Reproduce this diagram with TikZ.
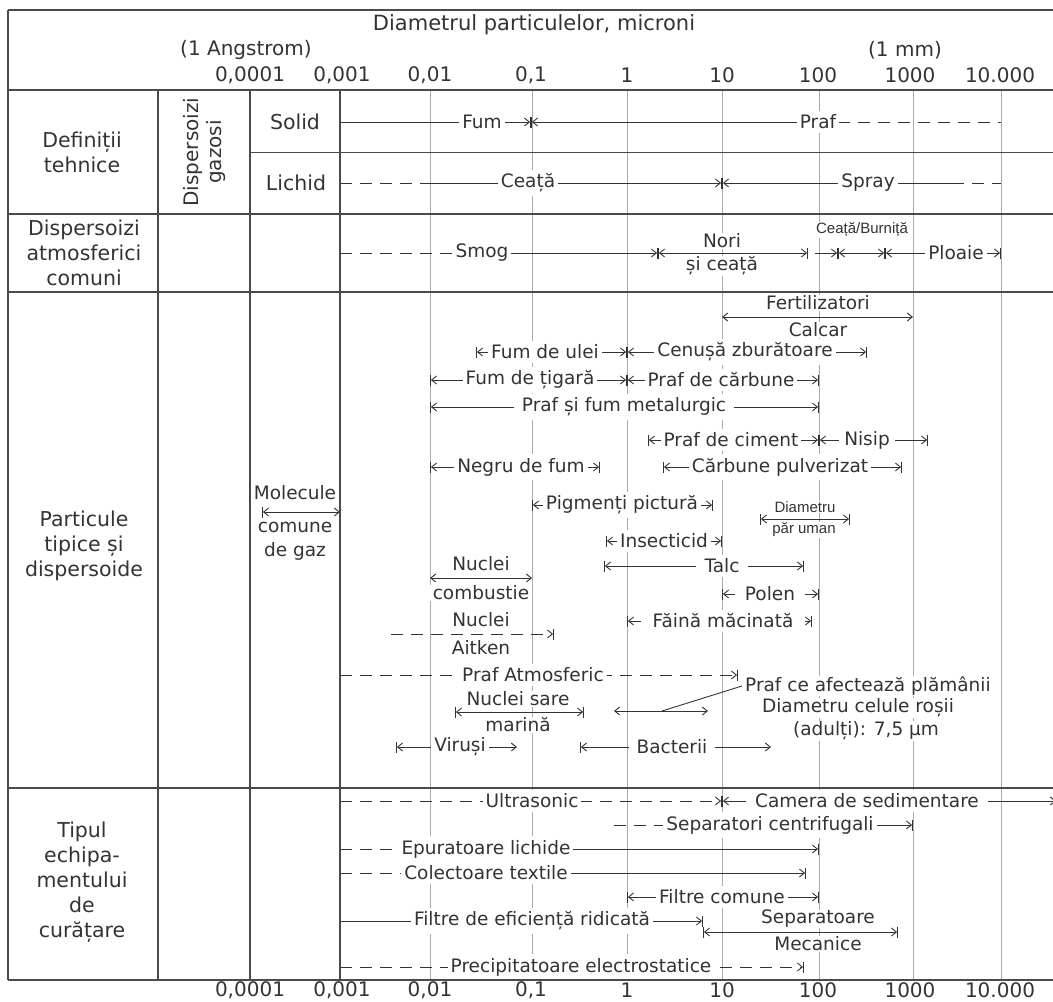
\documentclass[tikz,border=0pt]{standalone}
\usepackage{fontspec}
\setmainfont{DejaVu Sans}
\newfontfamily\arialfont{Liberation Sans}
\usetikzlibrary{arrows.meta}

\definecolor{linegray}{HTML}{4A4A4A}
\definecolor{gridgray}{HTML}{ABABAB}
\definecolor{inkgray}{HTML}{333333}

\tikzset{
  >={Straight Barb[length=5pt,width=8pt]},
  |/.tip={Bar[width=11pt]},
  tableline/.style={linegray, line width=1.5pt},
  thinline/.style={linegray, line width=1pt},
  gridline/.style={gridgray, line width=1pt},
  rangeline/.style={inkgray, line width=0.9pt},
  dashrange/.style={rangeline, dash pattern=on 12pt off 8pt},
  lab/.style={fill=white, text=inkgray, inner xsep=3pt, inner ysep=4pt,
    font=\fontsize{18.5}{22}\selectfont},
  sublab/.style={lab, inner ysep=0.5pt},
  tinylab/.style={fill=white, text=inkgray, inner sep=0.5pt,
    font=\arialfont\fontsize{15}{17}\selectfont},
  rowhead/.style={text=inkgray, align=center, font=\fontsize{20.5}{25}\selectfont},
  ticklab/.style={text=inkgray, inner sep=1pt, font=\fontsize{20}{24}\selectfont},
}

\begin{document}
\begin{tikzpicture}[x=1pt,y=-1pt]
  \useasboundingbox (0,0) rectangle (1053,1002);

  % decade grid
  \foreach \x in {430,532,627,722,819,913,1001}
    \draw[gridline] (\x,90) -- (\x,980);

  % header
  \node[ticklab, font=\fontsize{21}{25}\selectfont] (title) at (534,25) {Diametrul particulelor, microni};
  \node[ticklab] (angstrom) at (246,50) {(1 Angstrom)};
  \node[ticklab] (mm) at (905,50) {(1 mm)};
  \foreach \x/\t in {250/{0,0001},342/{0,001},430/{0,01},531/{0,1},627/1,722/10,818/100,910/1000,1000/{10.000}} {
    \node[ticklab] (t\x) at (\x,75) {\t};
    \node[ticklab] (b\x) at (\x,990) {\t};
  }

  % row heads
  \node[rowhead] (deftech) at (82,152) {Definiții\\tehnice};
  \node[rowhead, rotate=90, font=\fontsize{20}{23}\selectfont] (gazosi) at (204,152) {Dispersoizi\\gazosi};
  \node[rowhead] (solid) at (295,122) {Solid};
  \node[rowhead] (lichid) at (296,183) {Lichid};
  \node[rowhead] (atmos) at (84,253) {Dispersoizi\\atmosferici\\comuni};
  \node[rowhead] (partic) at (84,546) {Particule\\tipice și\\dispersoide};
  \node[rowhead] (tipul) at (82,882) {Tipul\\echipa-\\mentului\\de\\curățare};

  % definitii tehnice
  \draw[rangeline,->|] (340,122) -- (531,122);
  \draw[rangeline,|<-] (531,122) -- (818,122);
  \draw[dashrange] (818,122) -- (1001,122);
  \node[lab] (fum) at (482,122) {Fum};
  \node[lab] (praf) at (818,122) {Praf};
  \draw[dashrange] (340,183) -- (430,183);
  \draw[rangeline,->|] (430,183) -- (722,183);
  \draw[rangeline,|<-] (722,183) -- (952,183);
  \draw[dashrange] (952,183) -- (1001,183);
  \node[lab] (ceata) at (528,183) {Ceață};
  \node[lab] (spray) at (868,183) {Spray};

  % dispersoizi atmosferici
  \draw[dashrange] (340,253) -- (482,253);
  \draw[rangeline,->|] (482,253) -- (658,253);
  \draw[rangeline,|<->|] (658,253) -- (808,253);
  \draw[rangeline,->|] (815,253) -- (838,253);
  \draw[rangeline,|<->|] (838,253) -- (885,253);
  \draw[rangeline,|<->|] (885,253) -- (1001,253);
  \node[lab] (smog) at (482,253) {Smog};
  \node[sublab] (nori) at (722,241) {Nori};
  \node[sublab] (sinori) at (722,266) {și ceață};
  \node[tinylab] (burnita) at (862,230) {Ceață/Burniță};
  \node[lab] (ploaie) at (956,253) {Ploaie};

  % particule tipice
  \draw[rangeline,<->] (722,317) -- (913,317);
  \draw[rangeline,|<->|] (476,352) -- (627,352);
  \draw[rangeline,|<->|] (627,352) -- (867,352);
  \draw[rangeline,|<->|] (430,380) -- (627,380);
  \draw[rangeline,|<->|] (627,380) -- (819,380);
  \draw[rangeline,|<->|] (430,407) -- (819,407);
  \draw[rangeline,|<->|] (648,440) -- (819,440);
  \draw[rangeline,|<->|] (819,440) -- (928,440);
  \draw[rangeline,|<->|] (430,467) -- (600,467);
  \draw[rangeline,|<->|] (663,467) -- (902,467);
  \draw[rangeline,|<->] (262,512) -- (340,512);
  \draw[rangeline,|<->|] (532,505) -- (713,505);
  \draw[rangeline,|<->|] (760,519) -- (850,519);
  \draw[rangeline,|<->|] (606,541) -- (722,541);
  \draw[rangeline,|<->|] (604,566) -- (804,566);
  \draw[rangeline,<->] (430,578) -- (532,578);
  \draw[rangeline,|<->|] (722,594) -- (819,594);
  \draw[rangeline,|<->|] (627,621) -- (812,621);
  \draw[dashrange,->|] (391,634) -- (554,634);
  \draw[dashrange,->|] (340,675) -- (738,675);
  \draw[rangeline,|<->|] (455,712) -- (584,712);
  \draw[rangeline,<->] (614,711) -- (708,711);
  \draw[rangeline,|<->] (396,747) -- (517,747);
  \draw[rangeline,|<->] (580,747) -- (771,747);

  \node[sublab] (fert) at (818,303) {Fertilizatori};
  \node[sublab] (calcar) at (818,330) {Calcar};
  \node[lab] (fumulei) at (545,352) {Fum de ulei};
  \node[lab] (cenusa) at (745,352) {Cenușă zburătoare};
  \node[lab] (tigara) at (530,380) {Fum de țigară};
  \node[lab] (carbune) at (721,380) {Praf de cărbune};
  \node[lab, inner xsep=8pt] (metal) at (624,407) {Praf și fum metalurgic};
  \node[lab] (ciment) at (731,440) {Praf de ciment};
  \node[lab, inner xsep=5pt] (nisip) at (867,440) {Nisip};
  \node[lab] (negru) at (521,467) {Negru de fum};
  \node[lab] (pulver) at (780,467) {Cărbune pulverizat};
  \node[sublab] (molec) at (295,493) {Molecule};
  \node[sublab] (comune) at (295,527) {comune};
  \node[sublab] (gaz) at (295,551) {de gaz};
  \node[lab] (pigment) at (622,505) {Pigmenți pictură};
  \node[tinylab] (diam) at (805,507) {Diametru};
  \node[tinylab] (par) at (804,530) {păr uman};
  \node[lab] (insect) at (664,541) {Insecticid};
  \node[lab, inner xsep=9pt] (talc) at (722,566) {Talc};
  \node[sublab] (nuc1) at (481,564) {Nuclei};
  \node[sublab] (comb) at (481,593) {combustie};
  \node[lab, inner xsep=10pt] (polen) at (770,594) {Polen};
  \node[lab, inner xsep=12pt] (faina) at (723,621) {Făină măcinată};
  \node[sublab] (nuc2) at (481,620) {Nuclei};
  \node[sublab] (aitken) at (481,648) {Aitken};
  \node[lab] (atmpraf) at (533,675) {Praf Atmosferic};
  \node[sublab] (sare) at (518,699) {Nuclei sare};
  \node[sublab] (marina) at (518,725) {marină};
  \node[sublab, anchor=west] (pa1) at (742,686) {Praf ce afectează plămânii};
  \node[sublab] (pa2) at (858,708) {Diametru celule roșii};
  \node[sublab] (pa3) at (866,731) {(adulți): 7,5 µm};
  \draw[rangeline] (662,711) -- (pa1.west);
  \node[lab] (virusi) at (460,747) {Viruși};
  \node[lab, inner xsep=8pt] (bact) at (672,747) {Bacterii};

  % echipament
  \draw[dashrange,->|] (340,801) -- (722,801);
  \draw[rangeline,|<->] (722,801) -- (1056,801);
  \draw[dashrange] (614,825) -- (665,825);
  \draw[rangeline,->|] (665,825) -- (913,825);
  \draw[dashrange] (340,849) -- (400,849);
  \draw[rangeline,->|] (400,849) -- (819,849);
  \draw[dashrange] (340,873) -- (400,873);
  \draw[rangeline,->|] (400,873) -- (806,873);
  \draw[rangeline,|<->|] (627,897) -- (819,897);
  \draw[rangeline,->|] (340,921) -- (703,921);
  \draw[rangeline,|<->|] (703,932) -- (898,932);
  \draw[dashrange,->|] (340,967) -- (804,967);

  \node[lab] (ultra) at (532,801) {Ultrasonic};
  \node[lab, inner xsep=9pt] (camera) at (867,801) {Camera de sedimentare};
  \node[lab] (centri) at (770,825) {Separatori centrifugali};
  \node[lab] (epur) at (486,849) {Epuratoare lichide};
  \node[lab] (colect) at (486,873) {Colectoare textile};
  \node[lab] (fcom) at (722,897) {Filtre comune};
  \node[lab] (feff) at (532,921) {Filtre de eficiență ridicată};
  \node[sublab] (sep) at (818,919) {Separatoare};
  \node[sublab] (mec) at (818,944) {Mecanice};
  \node[lab] (precip) at (581,967) {Precipitatoare electrostatice};

  % table
  \draw[tableline] (8,10) -- (1053,10);
  \draw[tableline] (8,10) -- (8,980);
  \foreach \y in {90,214,292,788,980}
    \draw[tableline] (8,\y) -- (1053,\y);
  \draw[thinline] (250,152) -- (1053,152);
  \foreach \x in {158,250,340}
    \draw[tableline] (\x,90) -- (\x,980);
\end{tikzpicture}
\end{document}
